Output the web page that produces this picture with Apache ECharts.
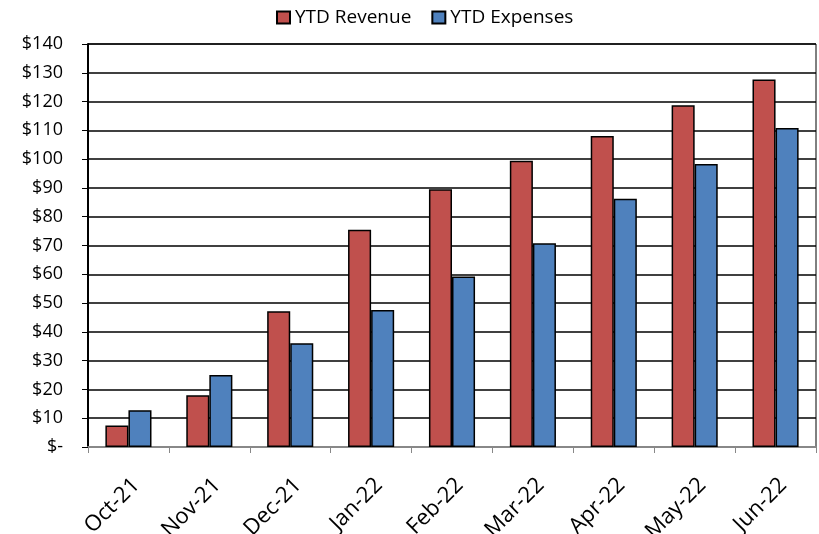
<!DOCTYPE html>
<html>
<head>
<meta charset="utf-8">
<title>YTD Revenue vs Expenses</title>
<script src="https://cdn.jsdelivr.net/npm/echarts@6/dist/echarts.min.js"></script>
<style>
  html, body { margin: 0; padding: 0; background: #fff; }
  #chart { width: 819px; height: 534px; }
</style>
</head>
<body>
<div id="chart"></div>
<script>
// months on the x axis
const months = ['Oct-21', 'Nov-21', 'Dec-21', 'Jan-22', 'Feb-22', 'Mar-22', 'Apr-22', 'May-22', 'Jun-22']
// YTD values
const revenue = [7.5, 18, 47.2, 75.5, 89.5, 99.4, 108, 118.7, 127.7]
const expenses = [12.8, 25, 36, 47.6, 59.2, 70.8, 86.2, 98.3, 110.8]

const font = '"Open Sans", "Liberation Sans", sans-serif'

const chart = echarts.init(document.getElementById('chart'))
chart.setOption({
  animation: false,
  legend: {
    top: 3,
    left: 271,
    icon: 'rect',
    itemWidth: 13,
    itemHeight: 12,
    itemGap: 20,
    textStyle: { fontFamily: font, fontSize: 19, color: '#000' },
    data: ['YTD Revenue', 'YTD Expenses']
  },
  grid: {
    left: 88, right: 3, top: 44, bottom: 87,
    outerBoundsMode: 'none',
    show: true,
    borderColor: '#000',
    borderWidth: 1
  },
  xAxis: {
    type: 'category',
    data: months,
    axisLine: { lineStyle: { color: '#888', width: 2 } },
    axisTick: { show: true, length: 6, lineStyle: { color: '#888', width: 1 } },
    axisLabel: {
      rotate: 45,
      margin: 27,
      verticalAlign: 'top',
      fontFamily: font,
      fontSize: 22,
      color: '#000'
    }
  },
  yAxis: {
    type: 'value',
    min: 0,
    max: 140,
    interval: 10,
    axisLine: { show: true, lineStyle: { color: '#000', width: 2 } },
    axisTick: { show: true, length: 6, lineStyle: { color: '#000', width: 1 } },
    splitLine: { lineStyle: { color: '#000', width: 1.5 } },
    axisLabel: {
      margin: 25,
      fontFamily: font,
      fontSize: 18,
      color: '#000',
      formatter: v => (v === 0 ? '$-' : '$' + v)
    }
  },
  series: [
    {
      name: 'YTD Revenue',
      type: 'bar',
      data: revenue,
      barGap: '0%',
      barCategoryGap: '43%',
      itemStyle: { color: '#C0504D', borderColor: '#000', borderWidth: 1.5 }
    },
    {
      name: 'YTD Expenses',
      type: 'bar',
      data: expenses,
      itemStyle: { color: '#4F81BD', borderColor: '#000', borderWidth: 1.5 }
    }
  ]
})
</script>
</body>
</html>
